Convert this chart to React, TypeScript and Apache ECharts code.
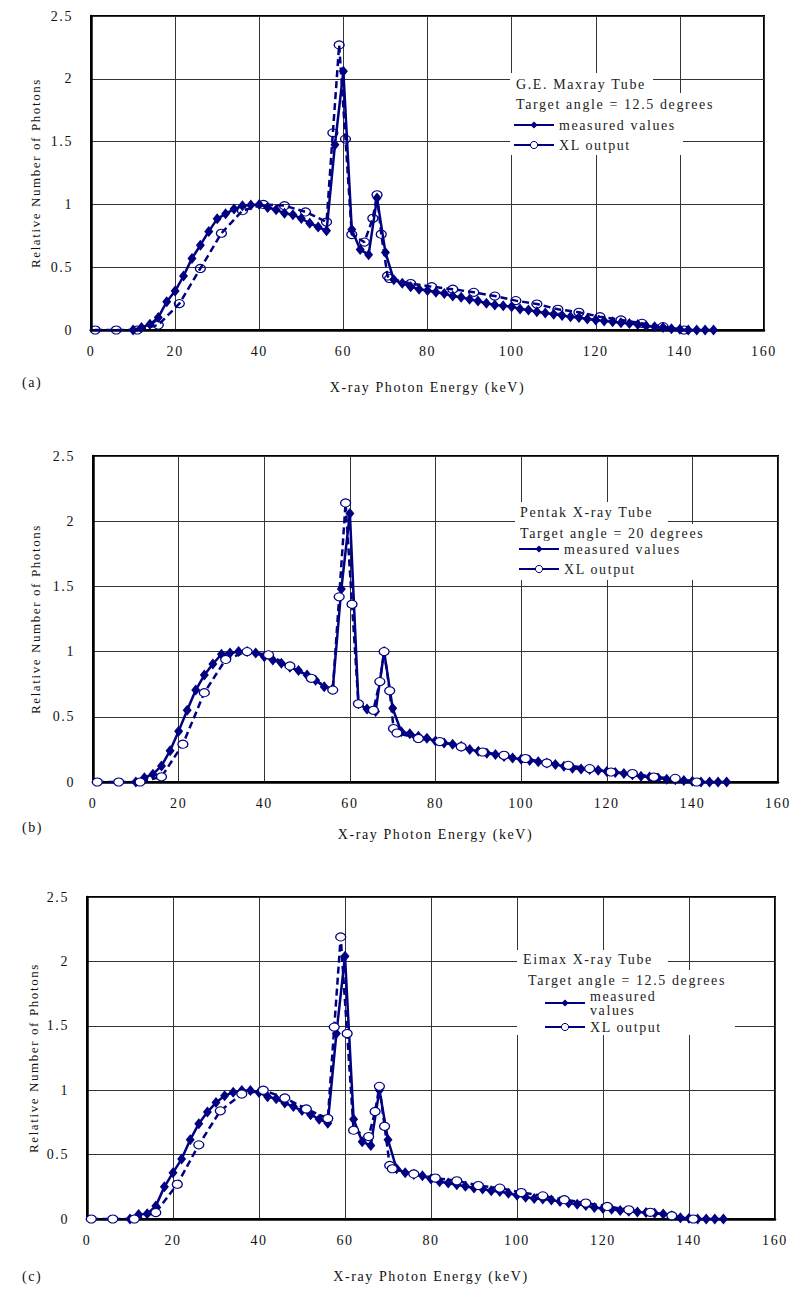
import React, { useEffect, useRef } from "react";
import * as echarts from "echarts";

const FONT = "'Liberation Serif', 'Times New Roman', serif";
const NAVY = "#000080";

const xTicksMax = 160;
const yTicksMax = 2.5;

const measuredEnergy = [
  10, 12, 14, 16, 18, 20, 22, 24, 26, 28, 30, 32, 34, 36, 38, 40, 42, 44, 46, 48,
  50, 52, 54, 56, 58, 60, 62, 64, 66, 68, 70, 72, 74, 76, 78, 80, 82, 84, 86, 88,
  90, 92, 94, 96, 98, 100, 102, 104, 106, 108, 110, 112, 114, 116, 118, 120, 122, 124, 126, 128,
  130, 132, 134, 136, 138, 140, 142, 144, 146, 148,
];

const measuredA = [
  0, 0.02, 0.045, 0.1, 0.225, 0.31, 0.43, 0.57, 0.675, 0.785, 0.885, 0.925, 0.963, 0.99, 0.995, 1.0,
  0.975, 0.957, 0.93, 0.917, 0.888, 0.85, 0.82, 0.79, 1.475, 2.06, 0.8, 0.64, 0.6, 1.05, 0.617,
  0.4, 0.372, 0.345, 0.325, 0.314, 0.3, 0.29, 0.27, 0.26, 0.245,
  0.23, 0.213, 0.2, 0.194, 0.186, 0.168, 0.16, 0.146, 0.135, 0.125,
  0.115, 0.106, 0.1, 0.088, 0.08, 0.072, 0.066, 0.058, 0.052, 0.044,
  0.032, 0.026, 0.02, 0.01, 0.005, 0, 0, 0, 0,
];

const measuredB = [
  0, 0.033, 0.06, 0.123, 0.24, 0.39, 0.55, 0.705, 0.82, 0.905, 0.98, 0.99, 1.0, 1.0, 0.99, 0.96,
  0.936, 0.91, 0.88, 0.855, 0.82, 0.78, 0.73, 0.715, 1.48, 2.06, 0.6, 0.56, 0.54, 1.0, 0.565,
  0.385, 0.37, 0.35, 0.335, 0.315, 0.3, 0.29, 0.275, 0.25, 0.235,
  0.22, 0.21, 0.195, 0.185, 0.175, 0.165, 0.155, 0.146, 0.135, 0.12,
  0.105, 0.1, 0.095, 0.09, 0.08, 0.072, 0.065, 0.055, 0.045, 0.038,
  0.03, 0.022, 0.017, 0.012, 0.005, 0, 0, 0, 0,
];

const measuredC = [
  0, 0.034, 0.04, 0.1, 0.25, 0.36, 0.465, 0.615, 0.74, 0.83, 0.904, 0.956, 0.985, 0.997, 0.997, 0.982,
  0.95, 0.933, 0.9, 0.873, 0.842, 0.81, 0.775, 0.744, 1.44, 2.04, 0.775, 0.6, 0.57, 1.0, 0.615,
  0.39, 0.36, 0.345, 0.336, 0.31, 0.29, 0.28, 0.266, 0.255, 0.24,
  0.233, 0.22, 0.214, 0.2, 0.185, 0.168, 0.16, 0.155, 0.148, 0.135,
  0.124, 0.115, 0.105, 0.09, 0.082, 0.075, 0.066, 0.06, 0.054, 0.05,
  0.045, 0.038, 0.025, 0.01, 0.005, 0, 0, 0, 0,
];

const xlEnergyA = [
  1, 6, 11, 16, 21, 26, 31, 36, 41, 46, 51, 56, 57.5, 59, 60.5, 62, 65, 67, 68, 69, 70.5, 71,
  76, 81, 86, 91, 96, 101, 106, 111, 116, 121, 126, 131, 136, 141,
];
const xlA = [
  0, 0, 0, 0.04, 0.21, 0.49, 0.77, 0.95, 1.0, 0.99, 0.94, 0.86, 1.57, 2.27, 1.52, 0.76, 0.7, 0.89,
  1.077, 0.763, 0.43, 0.41, 0.37, 0.345, 0.325, 0.3, 0.27, 0.234, 0.207, 0.165, 0.141, 0.106, 0.08,
  0.053, 0.027, 0,
];

const xlEnergyB = [
  1, 6, 11, 16, 21, 26, 31, 36, 41, 46, 51, 56, 57.5, 59, 60.5, 62, 65.5, 67, 68, 69.3, 70.2, 71,
  76, 81, 86, 91, 96, 101, 106, 111, 116, 121, 126, 131, 136, 141,
];
const xlB = [
  0, 0, 0, 0.04, 0.29, 0.685, 0.94, 1.0, 0.975, 0.89, 0.795, 0.705, 1.42, 2.14, 1.364, 0.6, 0.55,
  0.77, 1.0, 0.7, 0.41, 0.376, 0.334, 0.31, 0.27, 0.23, 0.205, 0.18, 0.146, 0.128, 0.103, 0.077,
  0.065, 0.038, 0.028, 0,
];

const xlEnergyC = [
  1, 6, 11, 16, 21, 26, 31, 36, 41, 46, 51, 56, 57.5, 59, 60.5, 62, 65.5, 67, 68, 69.2, 70.4, 71,
  76, 81, 86, 91, 96, 101, 106, 111, 116, 121, 126, 131, 136, 141,
];
const xlC = [
  0, 0, 0, 0.05, 0.27, 0.576, 0.84, 0.97, 1.0, 0.94, 0.855, 0.78, 1.49, 2.19, 1.44, 0.69, 0.64,
  0.835, 1.03, 0.72, 0.416, 0.39, 0.35, 0.318, 0.297, 0.26, 0.24, 0.206, 0.18, 0.15, 0.124, 0.098,
  0.072, 0.052, 0.026, 0,
];

const panelLabels = ["(a)", "(b)", "(c)"];
const tubeNames = ["G.E. Maxray Tube", "Pentak X-ray Tube", "Eimax X-ray Tube"];
const angleTexts = [
  "Target angle = 12.5 degrees",
  "Target angle = 20 degrees",
  "Target angle = 12.5 degrees",
];
const seriesNames = ["measured values", "XL output"];
const xTitle = "X-ray Photon Energy (keV)";
const yTitle = "Relative Number of Photons";

const zip = (xs: number[], ys: number[]) => xs.map((x, i) => [x, ys[i]]);

export default function App() {
  const ref = useRef<HTMLDivElement>(null);

  useEffect(() => {
    if (!ref.current) return;
    const chart = echarts.init(ref.current, undefined, { renderer: "svg" });

    const grids = [
      { left: 91, top: 16, width: 673, height: 314 },
      { left: 93, top: 456, width: 685, height: 326 },
      { left: 87, top: 897, width: 688, height: 322 },
    ];
    const xNameGaps = [50, 45, 50];
    const yNameGaps = [49, 51, 47];

    const measured = [measuredA, measuredB, measuredC];
    const xlE = [xlEnergyA, xlEnergyB, xlEnergyC];
    const xlV = [xlA, xlB, xlC];

    const labelStyle = { fontFamily: FONT, fontSize: 14, color: "#111" };

    const xAxes = grids.map((_, i) => ({
      type: "value",
      gridIndex: i,
      min: 0,
      max: xTicksMax,
      interval: 20,
      name: xTitle,
      nameLocation: "middle",
      nameGap: xNameGaps[i],
      nameTextStyle: { fontFamily: FONT, fontSize: 14, color: "#111" },
      axisLine: { show: true, lineStyle: { color: "#000", width: 2.5 } },
      axisTick: { show: false },
      axisLabel: { ...labelStyle, margin: 14 },
      splitLine: { show: true, lineStyle: { color: "#333", width: 1 } },
    }));

    const yAxes = grids.map((_, i) => ({
      type: "value",
      gridIndex: i,
      min: 0,
      max: yTicksMax,
      interval: 0.5,
      name: yTitle,
      nameLocation: "middle",
      nameRotate: 90,
      nameGap: yNameGaps[i],
      nameTextStyle: { fontFamily: FONT, fontSize: 13, color: "#111" },
      axisLine: { show: true, lineStyle: { color: "#000", width: 2.5 } },
      axisTick: { show: false },
      axisLabel: { ...labelStyle, margin: 18 },
      splitLine: { show: true, lineStyle: { color: "#333", width: 1 } },
    }));

    const series: any[] = [];
    grids.forEach((_, i) => {
      series.push({
        type: "line",
        name: seriesNames[0],
        xAxisIndex: i,
        yAxisIndex: i,
        data: zip(measuredEnergy, measured[i]),
        symbol: "diamond",
        symbolSize: [9, 11],
        itemStyle: { color: NAVY },
        lineStyle: { color: NAVY, width: 2.5 },
        z: 3,
      });
      series.push({
        type: "line",
        name: seriesNames[1],
        xAxisIndex: i,
        yAxisIndex: i,
        data: zip(xlE[i], xlV[i]),
        symbol: "circle",
        symbolSize: [10, 8],
        itemStyle: {
          color: i === 0 ? "rgba(255,255,255,0)" : "#fff",
          borderColor: NAVY,
          borderWidth: 1.2,
        },
        lineStyle: { color: NAVY, width: 2.5, type: [7, 4] },
        z: 4,
      });
    });

    const boxes = [
      { r1: [510, 73, 143, 20], r2: [510, 93, 173, 62], t1: [516, 84], t2: [516, 104] },
      { r1: [515, 502, 153, 22], r2: [515, 524, 205, 56], t1: [520, 512], t2: [520, 533] },
      { r1: [517, 950, 151, 20], r2: [517, 970, 218, 65], t1: [523, 959], t2: [528, 980] },
    ];
    const legendPos = [
      { left: 513, top: 118 },
      { left: 518, top: 542 },
      { left: 544, top: 989 },
    ];
    const panelLabelPos = [
      [22, 382],
      [22, 827],
      [22, 1276],
    ];

    const graphic: any[] = [];
    boxes.forEach((b, i) => {
      graphic.push({
        type: "rect",
        shape: { x: b.r1[0], y: b.r1[1], width: b.r1[2], height: b.r1[3] },
        style: { fill: "#fff" },
        z: 1,
      });
      graphic.push({
        type: "rect",
        shape: { x: b.r2[0], y: b.r2[1], width: b.r2[2], height: b.r2[3] },
        style: { fill: "#fff" },
        z: 1,
      });
      graphic.push({
        type: "text",
        x: b.t1[0],
        y: b.t1[1],
        style: { text: tubeNames[i], font: `14px ${FONT}`, fill: "#222", verticalAlign: "middle" },
        z: 5,
      });
      graphic.push({
        type: "text",
        x: b.t2[0],
        y: b.t2[1],
        style: { text: angleTexts[i], font: `14px ${FONT}`, fill: "#222", verticalAlign: "middle" },
        z: 5,
      });
      graphic.push({
        type: "text",
        x: panelLabelPos[i][0],
        y: panelLabelPos[i][1],
        style: { text: panelLabels[i], font: `14px ${FONT}`, fill: "#111", verticalAlign: "middle" },
        z: 5,
      });
    });

    const legends = legendPos.map((p, i) => ({
      orient: "vertical",
      left: p.left,
      top: p.top,
      itemWidth: 40,
      itemHeight: 9,
      itemGap: i === 2 ? 3 : 6,
      padding: 0,
      selectedMode: false,
      textStyle: { fontFamily: FONT, fontSize: 14, color: "#222", lineHeight: 14 },
      formatter: (name: string) => (i === 2 && name === seriesNames[0] ? "measured\nvalues" : name),
      data: [
        { name: seriesNames[0] },
        {
          name: seriesNames[1],
          itemStyle: { color: "#fff", borderColor: NAVY, borderWidth: 1 },
          lineStyle: { type: "solid" },
        },
      ],
    }));

    chart.setOption({
      animation: false,
      backgroundColor: "#fff",
      grid: grids.map((g) => ({ ...g, show: true, borderColor: "#000", borderWidth: 2, backgroundColor: "transparent" })),
      xAxis: xAxes,
      yAxis: yAxes,
      legend: legends,
      series,
      graphic,
    });

    return () => chart.dispose();
  }, []);

  return (
    <div
      ref={ref}
      style={{
        position: "absolute",
        left: 0,
        top: 0,
        width: 792,
        height: 1289,
        background: "#fff",
        letterSpacing: "1.6px",
      }}
    />
  );
}
